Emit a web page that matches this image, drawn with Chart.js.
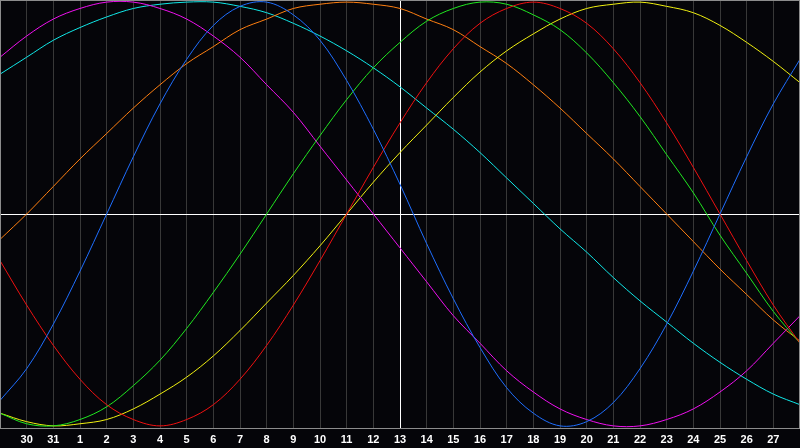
<!DOCTYPE html>
<html>
<head>
<meta charset="utf-8">
<title>Biorhythm</title>
<style>
  html, body { margin: 0; padding: 0; background: #050509; }
  canvas { display: block; }
</style>
</head>
<body>
<canvas id="bioChart" width="800" height="448"></canvas>
<script src="https://cdn.jsdelivr.net/npm/chart.js@4.4.0/dist/chart.umd.min.js"></script>
<script>
// Day labels along the bottom (first and last are only plot edges)
const days = ['29', '30', '31', '1', '2', '3', '4', '5', '6', '7', '8', '9', '10', '11', '12',
    '13', '14', '15', '16', '17', '18', '19', '20', '21', '22', '23', '24', '25', '26', '27', '28'];

// Cycle values per day, -100..100
const physical = [-88, -73, -52, -27, 0, 27, 52, 73, 89, 98, 100, 94, 82, 63, 40, 14,
    -14, -40, -63, -82, -94, -100, -98, -89, -73, -52, -27, 0, 27, 52, 73];
const emotional = [-22, -43, -62, -78, -90, -97, -100, -97, -90, -78, -62, -43, -22, 0, 22, 43,
    62, 78, 90, 97, 100, 97, 90, 78, 62, 43, 22, 0, -22, -43, -61];
const intellectual = [-94, -99, -100, -97, -91, -81, -69, -54, -37, -19, 0, 19, 37, 54, 69, 81,
    91, 97, 100, 99, 94, 87, 76, 62, 46, 28, 10, -10, -28, -46, -61];
const intuitive = [74, 84, 92, 97, 100, 100, 97, 92, 84, 74, 61, 48, 32, 16, 0, -16,
    -32, -48, -61, -74, -84, -92, -97, -100, -100, -97, -92, -84, -74, -61, -48];
const aesthetic = [-94, -98, -100, -99, -97, -92, -85, -77, -67, -55, -42, -29, -15, 0, 15, 29,
    42, 55, 67, 77, 85, 92, 97, 99, 100, 98, 95, 89, 81, 72, 62];
const awareness = [-12, 0, 13, 26, 38, 50, 61, 71, 79, 87, 92, 97, 99, 100, 99, 97,
    92, 87, 79, 71, 61, 50, 38, 26, 13, 0, -13, -26, -38, -50, -60];
const spiritual = [66, 74, 82, 88, 93, 97, 99, 100, 100, 98, 95, 90, 84, 77, 69, 60,
    50, 40, 29, 17, 5, -7, -18, -30, -41, -51, -61, -70, -78, -85, -90];

const todayIndex = 15;

/**
 * Background, zero line and plot frame
 */
const framePlugin = {
    id: 'frame',
    beforeDraw(chart) {
        const c = chart.ctx;
        c.save();
        c.fillStyle = '#050509';
        c.fillRect(0, 0, chart.width, chart.height);
        c.restore();
    },
    beforeDatasetsDraw(chart) {
        const c = chart.ctx;
        const area = chart.chartArea;
        const y0 = Math.round(chart.scales.y.getPixelForValue(0)) + 0.5;
        c.save();
        c.strokeStyle = '#ffffff';
        c.lineWidth = 1;
        c.beginPath();
        c.moveTo(area.left, y0);
        c.lineTo(area.right, y0);
        c.stroke();
        c.restore();
    },
    afterDraw(chart) {
        const c = chart.ctx;
        const area = chart.chartArea;
        c.save();
        c.strokeStyle = '#8c8c8c';
        c.lineWidth = 1;
        c.strokeRect(area.left + 0.5, area.top + 0.5, area.right - area.left - 1, area.bottom - area.top);
        c.restore();
    }
};

function line(data, color) {
    return {
        data: data,
        borderColor: color,
        borderWidth: 1,
        pointRadius: 0,
        pointHoverRadius: 0,
        fill: false,
        tension: 0.35
    };
}

new Chart(document.getElementById('bioChart'), {
    type: 'line',
    data: {
        labels: days,
        datasets: [
            line(physical, '#1e6eff'),
            line(emotional, '#f01010'),
            line(intellectual, '#20e820'),
            line(intuitive, '#f010f0'),
            line(aesthetic, '#f0f010'),
            line(awareness, '#ff7f10'),
            line(spiritual, '#10e8e8')
        ]
    },
    options: {
        responsive: false,
        animation: false,
        layout: { padding: 0, autoPadding: false },
        scales: {
            x: {
                type: 'category',
                offset: false,
                grid: {
                    color: (ctx) => {
                        if (ctx.index === todayIndex) return '#ffffff';
                        if (ctx.index === 0 || ctx.index === days.length - 1) return 'rgba(0,0,0,0)';
                        return '#383838';
                    },
                    drawTicks: false,
                    lineWidth: 1
                },
                border: { display: false },
                ticks: {
                    color: '#ffffff',
                    font: { family: 'Liberation Sans', size: 11, weight: 'bold' },
                    padding: 5,
                    autoSkip: false,
                    maxRotation: 0,
                    callback: (value, index) => (index === 0 || index === days.length - 1) ? '' : days[index]
                },
                afterFit: (axis) => {
                    axis.height = 20;
                    axis.paddingLeft = 0;
                    axis.paddingRight = 0;
                }
            },
            y: {
                display: false,
                min: -101,
                max: 101
            }
        },
        plugins: {
            legend: { display: false },
            tooltip: { enabled: false }
        }
    },
    plugins: [framePlugin]
});
</script>
</body>
</html>
